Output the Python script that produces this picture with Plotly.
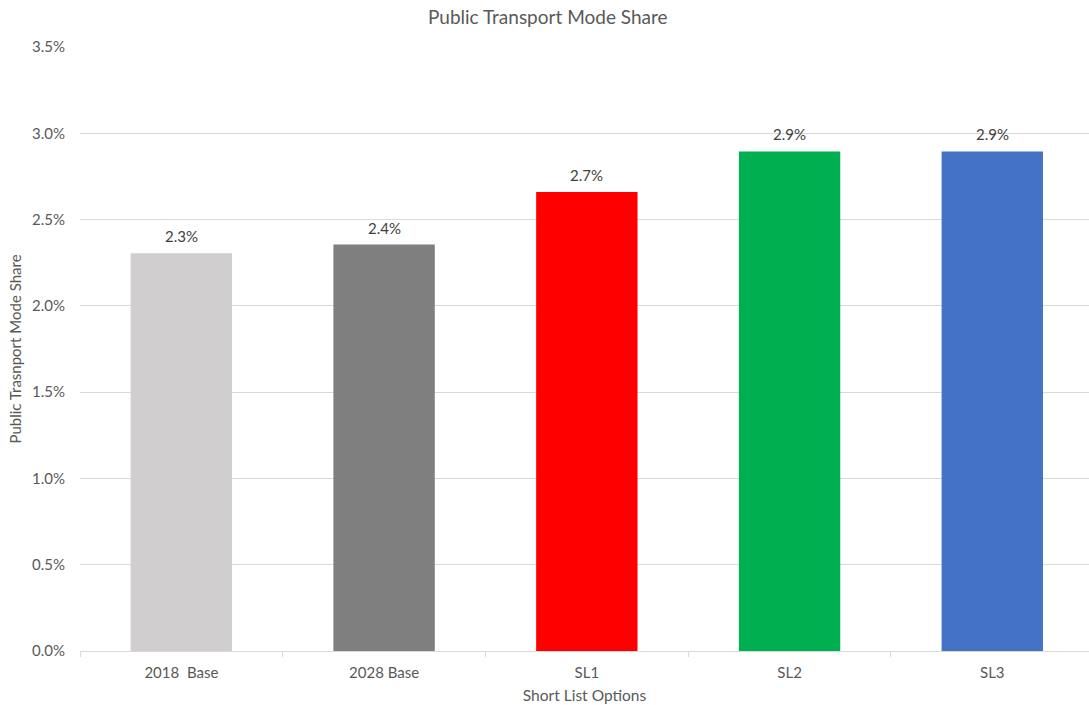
import plotly.graph_objects as go

categories = ["2018  Base", "2028 Base", "SL1", "SL2", "SL3"]
mode_share = [0.02305, 0.02355, 0.02660, 0.02895, 0.02895]
bar_colors = ["#D0CECE", "#7F7F7F", "#FF0000", "#00B050", "#4472C4"]

FONT = "Lato, 'Open Sans', sans-serif"
GREY = "#595959"

fig = go.Figure(
    go.Bar(
        x=categories,
        y=mode_share,
        marker=dict(color=bar_colors, line=dict(width=0)),
        width=0.5,
        hovertemplate="%{x}: %{y:.1%}<extra></extra>",
    )
)

for cat, val in zip(categories, mode_share):
    fig.add_annotation(
        x=cat,
        y=val,
        text=f"{val * 100:.1f}%",
        showarrow=False,
        yanchor="bottom",
        yshift=6,
        font=dict(family=FONT, size=15, color="#404040"),
    )

fig.update_layout(
    width=1089,
    height=705,
    paper_bgcolor="white",
    plot_bgcolor="white",
    margin=dict(l=80, r=0, t=47, b=54, autoexpand=False),
    font=dict(family=FONT, size=15, color=GREY),
    title=dict(
        text="Public Transport Mode Share",
        x=0.503,
        xanchor="center",
        y=0.975,
        yanchor="middle",
        font=dict(family=FONT, size=19, color=GREY),
    ),
    showlegend=False,
    xaxis=dict(
        range=[-0.5, 4.477],
        automargin=False,
        showgrid=False,
        showline=True,
        linecolor="#D9D9D9",
        linewidth=1,
        ticks="outside",
        tickson="boundaries",
        ticklen=5,
        tickcolor="#D9D9D9",
        ticklabelstandoff=8,
        tickfont=dict(family=FONT, size=15, color=GREY),
        title=dict(text="Short List Options", font=dict(family=FONT, size=15.5, color=GREY), standoff=10),
    ),
    yaxis=dict(
        range=[0, 0.035],
        dtick=0.005,
        tickformat=".1%",
        automargin=False,
        showgrid=True,
        gridcolor="#D9D9D9",
        gridwidth=1,
        zeroline=False,
        showline=False,
        ticks="",
        ticklabelstandoff=14,
        tickfont=dict(family=FONT, size=15, color=GREY),
        title=dict(text="Public Trasnport Mode Share", font=dict(family=FONT, size=15, color=GREY), standoff=6),
    ),
)

fig.write_html(
    "out.html",
    config={"displayModeBar": False},
    post_script="document.body.style.margin='0';document.body.style.overflow='hidden';",
)
